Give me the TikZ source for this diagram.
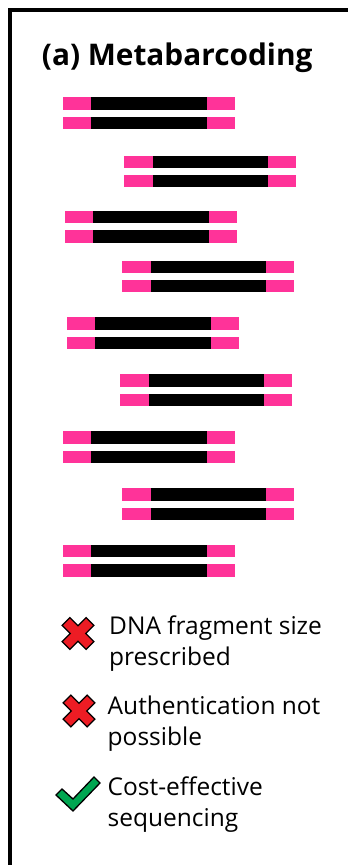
\documentclass[tikz,border=0pt]{standalone}
\usepackage{fontspec}
\setmainfont{Open Sans}
\usetikzlibrary{positioning}
\definecolor{primerpink}{RGB}{255,51,153}
\definecolor{crossred}{RGB}{237,28,36}
\definecolor{tickgreen}{RGB}{0,166,81}

\begin{document}
\begin{tikzpicture}[x=1pt,y=-1pt,
  primer/.style={fill=primerpink},
  insert/.style={fill=black},
  item/.style={anchor=base west,inner sep=0pt,align=left,
               font=\fontsize{24.5}{31}\selectfont},
  icon/.style={draw=black,line width=1.3pt,line join=miter}
]
\useasboundingbox (0,0) rectangle (348,865);
% panel frame
\draw[line width=4pt] (9.8,865) -- (9.8,9.5) -- (348,9.5);
\node[anchor=base west,inner sep=0pt,font=\fontsize{29.8}{36}\selectfont\bfseries]
  (title) at (41.7,65) {(a) Metabarcoding};
% amplicons: left x / top y of each pair
\foreach \fx/\fy in {62.5/97.3,124.3/155.7,64.7/211,122.3/260.7,66.7/317.3,
                     120.3/374.3,62.7/431.3,122.3/488.3,62.7/545}{
  \foreach \s in {0,19.3}{
    \fill[primer] (\fx,\fy+\s) rectangle ++(28.4,12.3);
    \fill[insert] (\fx+28.4,\fy+\s) rectangle ++(115.6,12.3);
    \fill[primer] (\fx+144,\fy+\s) rectangle ++(28,12.3);
  }
}
% legend
\foreach \cx/\cy in {78/633.5,79/711}{
  \draw[icon,fill=crossred,shift={(\cx,\cy)},rotate=45]
    (-5.5,17) -- (5.5,17) -- (5.5,5.5) -- (17,5.5) -- (17,-5.5) -- (5.5,-5.5)
    -- (5.5,-17) -- (-5.5,-17) -- (-5.5,-5.5) -- (-17,-5.5) -- (-17,5.5)
    -- (-5.5,5.5) -- cycle;
}
\draw[icon,fill=tickgreen] (56,795) -- (73,811) -- (100,783) -- (94,777)
  -- (73,799) -- (62,789) -- cycle;
% anchored at the baseline of the second line
\node[item] (dna) at (109,665) {DNA fragment size\\prescribed};
\node[item] (auth) at (107.5,745) {Authentication not\\possible};
\node[item] (cost) at (107.5,826) {Cost-effective\\sequencing};
\end{tikzpicture}
\end{document}
